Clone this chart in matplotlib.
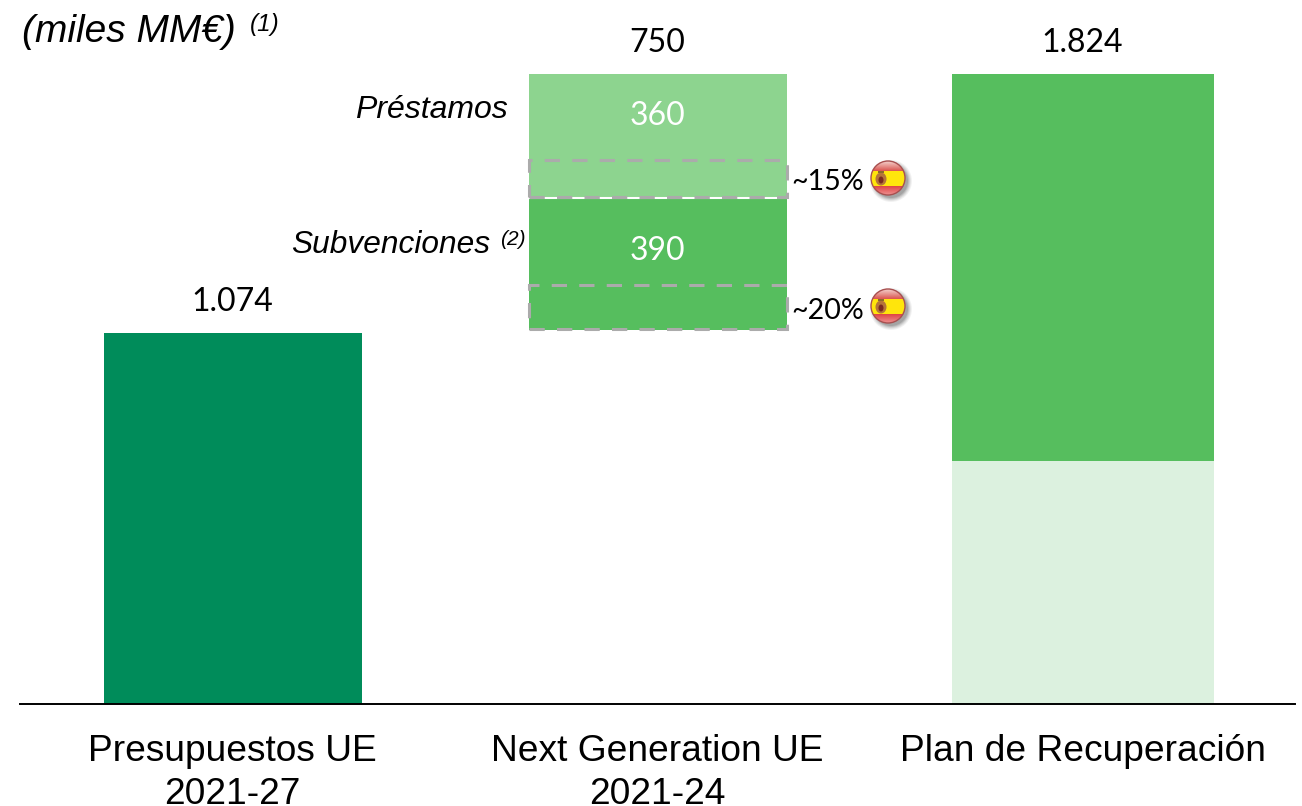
import numpy as np
import matplotlib
matplotlib.use('Agg')
import matplotlib.pyplot as plt
from matplotlib.patches import Circle, Rectangle, Ellipse

# valores en miles de MM€
x_pos = [0, 1, 2]
x_labels = ['Presupuestos UE\n2021-27', 'Next Generation UE\n2021-24', 'Plan de Recuperación']
presupuestos = 1074
stack_base = 1083
subvenciones = 382
prestamos = 359
plan_base = 703
plan_total = 1824
totals = ['1.074', '750', '1.824']
stack_labels = ['390', '360']
box_prestamos = [1468, 1575]
box_subvenciones = [1086, 1213]
pct_labels = ['~15%', '~20%']

SANS = 'Liberation Sans'
NUM = 'Lato'
W, H = 1302, 806
PX_Y = 0.3454  # pixeles por unidad
BASE_PX = 704
STEP = 425
X0 = 232.5


def flag(fig, cx, cy, r=17):
    # bandera de España en un circulo, con sombra
    pad = 9
    a = fig.add_axes([(cx - r - pad) / W, 1 - (cy + r + pad) / H,
                      2 * (r + pad) / W, 2 * (r + pad) / H])
    a.axis('off')
    for off, al in [(6, 0.05), (5, 0.06), (4, 0.08), (3, 0.10), (2, 0.12)]:
        a.add_patch(Circle((cx + 3, cy + 3), r + off - 2, color='black', alpha=al, lw=0))
    col = np.zeros((34, 1, 3))
    for i in range(34):
        if i < 10:
            col[i, 0] = np.array([0.95, 0.80, 0.78]) * (1 - i / 10) + np.array([0.85, 0.30, 0.28]) * (i / 10)
        elif i < 25:
            col[i, 0] = [1.0, 0.9, 0.05]
        else:
            col[i, 0] = np.array([0.88, 0.28, 0.28]) * (33 - i) / 8 + np.array([0.93, 0.55, 0.55]) * (i - 25) / 8
    im = a.imshow(col, extent=[cx - r, cx + r, cy + r, cy - r], aspect='auto', zorder=3)
    im.set_clip_path(Circle((cx, cy), r, transform=a.transData))
    a.set_xlim(cx - r - pad, cx + r + pad)
    a.set_ylim(cy + r + pad, cy - r - pad)
    a.add_patch(Circle((cx, cy), r, fill=False, ec='#a85050', lw=1, zorder=4))
    # escudo
    a.add_patch(Ellipse((cx - 7, cy + 1), 11, 13, color='#b5743a', lw=0, zorder=5))
    a.add_patch(Ellipse((cx - 7, cy + 2), 5, 7, color='#7a2a20', lw=0, zorder=6))
    a.add_patch(Rectangle((cx - 10, cy - 7), 6, 2, color='#8a6a2a', lw=0, zorder=6))


def main():
    fig = plt.figure(figsize=(W / 100, H / 100), dpi=100)
    ax = fig.add_axes([0, 0, 1, 1])
    ax.set_xlim(-X0 / STEP, (W - X0) / STEP)
    ax.set_ylim(-(H - BASE_PX) / PX_Y, BASE_PX / PX_Y)
    ax.axis('off')

    bw = 258 / STEP
    ax.bar(x_pos[0], presupuestos, bw, color='#008C5A')
    ax.bar(x_pos[1], subvenciones, bw, bottom=stack_base, color='#56BE5E')
    ax.bar(x_pos[1], prestamos, bw, bottom=stack_base + subvenciones, color='#8DD48F')
    ax.plot([x_pos[1] - bw / 2, x_pos[1] + bw / 2], [stack_base + subvenciones] * 2, color='white', lw=1.5)
    bw2 = 262 / STEP
    ax.bar(x_pos[2], plan_base, bw2, color='#DCF1DF')
    ax.bar(x_pos[2], plan_total - plan_base, bw2, bottom=plan_base, color='#56BE5E')

    # cajas discontinuas
    for lo, hi in [box_prestamos, box_subvenciones]:
        ax.add_patch(Rectangle((x_pos[1] - bw / 2, lo), bw, hi - lo, fill=False, ec='#ABABAB', lw=2.2,
                               ls=(0, (5, 4)), zorder=5))

    ax.plot([(20 - X0) / STEP, (1295 - X0) / STEP], [0, 0], color='black', lw=1.4, zorder=6)

    # totales
    tops = [presupuestos, plan_total, plan_total]
    for x, t, lab in zip(x_pos, tops, totals):
        ax.text(x, t + 89, lab, ha='center', va='center', fontsize=23, family=NUM, color='black')

    ax.text(x_pos[1], stack_base + subvenciones + prestamos * 0.66, stack_labels[1], ha='center', va='center',
            fontsize=23, family=NUM, color='white')
    ax.text(x_pos[1], stack_base + subvenciones * 0.6, stack_labels[0], ha='center', va='center',
            fontsize=23, family=NUM, color='white')

    for x, lab in zip(x_pos, x_labels):
        ax.text(x, -88, lab, ha='center', va='top', fontsize=26.7, family=SANS, color='black', linespacing=1.27)

    # textos en pixeles
    def ptext(px, py, s, **kw):
        fig.text(px / W, 1 - py / H, s, **kw)

    ptext(22, 32, '(miles MM€)', fontsize=28, family=SANS, style='italic', va='center', ha='left')
    ptext(250, 25, '(1)', fontsize=17.5, family=SANS, style='italic', va='center', ha='left')
    ptext(508, 110, 'Préstamos', fontsize=23, family=SANS, style='italic', va='center', ha='right')
    ptext(490, 245, 'Subvenciones', fontsize=22.8, family=SANS, style='italic', va='center', ha='right')
    ptext(500, 239, '(2)', fontsize=15, family=SANS, style='italic', va='center', ha='left')
    ptext(791, 182, pct_labels[0], fontsize=20.5, family=NUM, va='center', ha='left')
    ptext(791, 311, pct_labels[1], fontsize=20.5, family=NUM, va='center', ha='left')

    flag(fig, 888, 178)
    flag(fig, 888, 306)

    fig.savefig('out.png', dpi=100)


if __name__ == '__main__':
    main()
